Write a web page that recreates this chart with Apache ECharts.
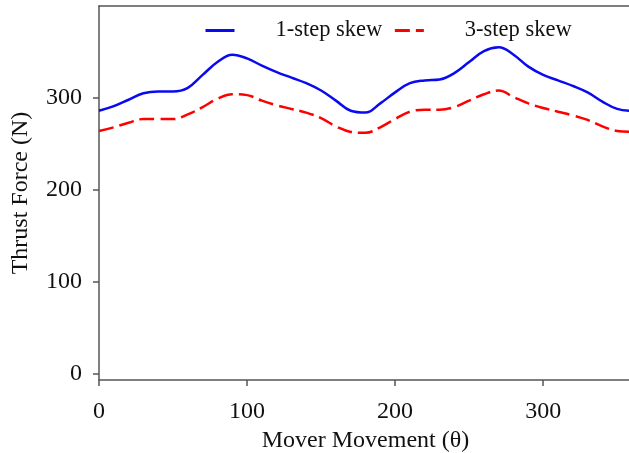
<!DOCTYPE html>
<html>
<head>
<meta charset="utf-8">
<script src="https://cdn.jsdelivr.net/npm/echarts@6/dist/echarts.min.js"></script>
<style>html,body{margin:0;padding:0;background:#fff}#c{width:629px;height:453px}</style>
</head>
<body>
<div id="c"></div>
<script>
var angles = [0,10,20,30,40,50,60,70,80,90,100,110,120,130,140,150,160,170,180,190,200,210,220,230,240,250,260,270,280,290,300,310,320,330,340,350,360];
var oneStep = [286,291,298,305,307,307,311,325,339,347,343,335,328,322,316,308,297,286,284,294,306,316,319,320,327,339,351,355,347,334,325,319,313,306,296,288,286];
var threeStep = [264,268,273,277,277,277,282,290,299,304,303,297,292,288,284,278,269,263,262,268,277,285,287,287,290,297,304,308,301,294,289,285,281,276,269,264,263];
var yTicks = [0,100,200,300];
var xTicks = [0,100,200,300];
var seriesNames = ['1-step skew','3-step skew'];

function pairs(xs, ys){ return xs.map(function(x,i){return [x, ys[i]];}); }

var font = '"Liberation Serif","Times New Roman",serif';
var axisCol = '#555';
var chart = echarts.init(document.getElementById('c'));
chart.setOption({
  animation: false,
  textStyle: {fontFamily: font},
  grid: {left: 99, right: -3, top: 6, bottom: 73, containLabel: false, outerBoundsMode: 'none'},
  legend: {
    left: 199, top: 14,
    itemWidth: 29, itemHeight: 14, itemGap: 11,
    itemStyle: {opacity: 0},
    lineStyle: {width: 3},
    textStyle: {fontFamily: font, fontSize: 22.5, color: '#111', padding: [0,0,0,36]},
    data: seriesNames
  },
  xAxis: [{
    type: 'value', min: 0, max: 360,
    name: 'Mover Movement (θ)', nameLocation: 'middle', nameGap: 45,
    nameTextStyle: {fontFamily: font, fontSize: 24, color: '#111'},
    axisLine: {onZero: false, lineStyle: {color: axisCol, width: 1.5}},
    axisTick: {length: 6, lineStyle: {color: axisCol, width: 1.5}, customValues: xTicks},
    axisLabel: {fontFamily: font, fontSize: 24, color: '#111', margin: 20, customValues: xTicks},
    splitLine: {show: false}
  },{
    type: 'value', position: 'top', min: 0, max: 360,
    axisLine: {show: true, onZero: false, lineStyle: {color: axisCol, width: 1.5}},
    axisTick: {show: false}, axisLabel: {show: false}, splitLine: {show: false}
  }],
  yAxis: {
    type: 'value', min: -7, max: 400,
    name: 'Thrust Force (N)', nameLocation: 'middle', nameGap: 66, nameRotate: 90,
    nameTextStyle: {fontFamily: font, fontSize: 24, color: '#111'},
    axisLine: {show: true, onZero: false, lineStyle: {color: axisCol, width: 1.5}},
    axisTick: {show: true, length: 6, lineStyle: {color: axisCol, width: 1.5}, customValues: yTicks},
    axisLabel: {fontFamily: font, fontSize: 24, color: '#111', margin: 17, customValues: yTicks},
    splitLine: {show: false}
  },
  series: [{
    name: seriesNames[0], type: 'line', smooth: 0.4, symbol: 'none',
    lineStyle: {color: '#0a0aee', width: 2.5},
    itemStyle: {color: '#0a0aee'},
    data: pairs(angles, oneStep)
  },{
    name: seriesNames[1], type: 'line', smooth: 0.4, symbol: 'none',
    lineStyle: {color: '#ff0000', width: 2.5, type: [15,6]},
    itemStyle: {color: '#ff0000'},
    data: pairs(angles, threeStep)
  }]
});
</script>
</body>
</html>
